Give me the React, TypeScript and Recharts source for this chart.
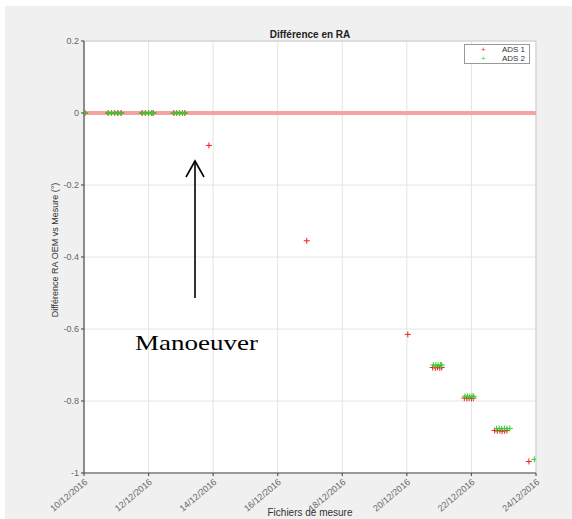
import React from "react";
import { ScatterChart, Scatter, XAxis, YAxis, CartesianGrid, ReferenceLine, ReferenceArea } from "recharts";

// x = days after 10/12/2016
const xTicks = [0, 2, 4, 6, 8, 10, 12, 14];
const xTickLabels = ["10/12/2016", "12/12/2016", "14/12/2016", "16/12/2016", "18/12/2016", "20/12/2016", "22/12/2016", "24/12/2016"];
const yTicks = [-1, -0.8, -0.6, -0.4, -0.2, 0, 0.2];
const yTickLabels = ["-1", "-0.8", "-0.6", "-0.4", "-0.2", "0", "0.2"];

const ads1Days = [0.03, 0.75, 0.85, 0.95, 1.05, 1.15, 1.8, 1.9, 2.0, 2.1, 2.15, 2.78, 2.87, 2.96, 3.05, 3.12,
  3.87, 6.9, 10.03, 10.8, 10.88, 10.95, 11.02, 11.08, 11.78, 11.86, 11.93, 12.0, 12.06,
  12.72, 12.8, 12.88, 12.95, 13.03, 13.1, 13.78];
const ads1Values = [0, 0, 0, 0, 0, 0, 0, 0, 0, 0, 0, 0, 0, 0, 0, 0,
  -0.09, -0.355, -0.615, -0.707, -0.708, -0.706, -0.708, -0.707, -0.792, -0.793, -0.792, -0.793, -0.792,
  -0.882, -0.883, -0.882, -0.884, -0.883, -0.882, -0.968];

const ads2Days = [0.03, 0.75, 0.85, 0.95, 1.05, 1.15, 1.8, 1.9, 2.0, 2.1, 2.15, 2.78, 2.87, 2.96, 3.05, 3.12,
  10.82, 10.9, 10.97, 11.04, 11.08, 11.8, 11.88, 11.95, 12.02, 12.07,
  12.78, 12.86, 12.94, 13.02, 13.1, 13.19, 13.95];
const ads2Values = [0, 0, 0, 0, 0, 0, 0, 0, 0, 0, 0, 0, 0, 0, 0, 0,
  -0.7, -0.7, -0.701, -0.7, -0.7, -0.787, -0.787, -0.788, -0.787, -0.787,
  -0.877, -0.876, -0.877, -0.876, -0.877, -0.876, -0.962];

const ads1 = ads1Days.map((d, i) => ({ x: d, y: ads1Values[i] }));
const ads2 = ads2Days.map((d, i) => ({ x: d, y: ads2Values[i] }));

const plus = (color: string) => (props: any) => {
  const { cx, cy } = props;
  return (
    <g stroke={color} strokeWidth={1}>
      <line x1={cx - 3} y1={cy} x2={cx + 3} y2={cy} />
      <line x1={cx} y1={cy - 3} x2={cx} y2={cy + 3} />
    </g>
  );
};

const DateTick = (props: any) => {
  const { x, y, payload } = props;
  const idx = xTicks.indexOf(payload.value);
  return (
    <text x={x + 4} y={y + 5} transform={`rotate(-40 ${x + 4} ${y + 5})`} textAnchor="end"
      fontSize={9} fill="#666" fontFamily="Liberation Sans, Arial, sans-serif">
      {xTickLabels[idx]}
    </text>
  );
};

export default function App() {
  const font = "Liberation Sans, Arial, sans-serif";
  return (
    <div style={{ position: "absolute", left: 0, top: 0, width: 572, height: 519, background: "#fff", overflow: "hidden" }}>
      <div style={{ position: "absolute", left: 5, top: 6, width: 567, height: 513, background: "#f0f0f0" }} />
      <div style={{ position: "absolute", left: 0, top: 0 }}>
        <ScatterChart width={572} height={519} margin={{ top: 41, right: 36, bottom: 6, left: 44 }}>
          <CartesianGrid stroke="#e4e4e4" fill="#fff" horizontalValues={yTicks} verticalValues={xTicks} />
          <XAxis type="number" dataKey="x" domain={[0, 14]} ticks={xTicks} height={40} interval={0}
            stroke="#555" strokeWidth={1.2} tickSize={3} tick={<DateTick />} allowDataOverflow />
          <YAxis type="number" dataKey="y" domain={[-1, 0.2]} ticks={yTicks} width={40} interval={0}
            stroke="#555" strokeWidth={1.2} tickSize={3} tickMargin={2}
            tickFormatter={(v: number) => yTickLabels[yTicks.indexOf(v)]}
            tick={{ fontSize: 9, fill: "#666", fontFamily: font }} allowDataOverflow />
          <ReferenceArea x1={0} x2={14} y1={-1} y2={0.2} fill="none" stroke="#cfcfcf" strokeWidth={1} />
          <ReferenceLine y={0} stroke="#f4a3a3" strokeWidth={4} />
          <Scatter data={ads1} shape={plus("#e8202a")} isAnimationActive={false} />
          <Scatter data={ads2} shape={plus("#2ed62e")} isAnimationActive={false} />
        </ScatterChart>
      </div>
      <div style={{ position: "absolute", left: 464, top: 44, width: 64, height: 18, border: "1px solid #999", background: "#fff",
        fontFamily: font, fontSize: 8, color: "#333", lineHeight: "9px" }}>
        <div style={{ display: "flex", justifyContent: "space-between", padding: "0 4px 0 16px" }}>
          <span style={{ color: "#e8202a" }}>+</span><span>ADS 1</span>
        </div>
        <div style={{ display: "flex", justifyContent: "space-between", padding: "0 4px 0 16px" }}>
          <span style={{ color: "#2ed62e" }}>+</span><span>ADS 2</span>
        </div>
      </div>
      <svg width={572} height={519} style={{ position: "absolute", left: 0, top: 0, pointerEvents: "none" }}>
        <text x={310} y={38} textAnchor="middle" fontSize={10} fontWeight="bold" fill="#222" fontFamily={font}>Différence en RA</text>
        <text x={58} y={250} textAnchor="middle" fontSize={9} fill="#333" fontFamily={font}
          transform="rotate(-90 58 250)">Différence RA OEM vs Mesure (°)</text>
        <text x={310} y={516} textAnchor="middle" fontSize={10} fill="#333" fontFamily={font}>Fichiers de mesure</text>
        <line x1={195} y1={298} x2={195} y2={161} stroke="#000" strokeWidth={1.6} />
        <polyline points="186,177 195,161 204,177" fill="none" stroke="#000" strokeWidth={1.6} />
        <text x={135} y={350} fontSize={22} fill="#000" fontFamily="Liberation Serif, Times New Roman, serif"
          textLength={123} lengthAdjust="spacingAndGlyphs">Manoeuver</text>
      </svg>
    </div>
  );
}
